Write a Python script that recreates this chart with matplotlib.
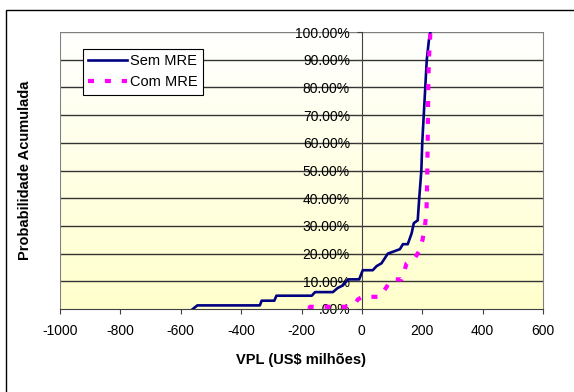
import numpy as np
import matplotlib
matplotlib.use("Agg")
import matplotlib.pyplot as plt
from matplotlib.patches import Rectangle
from matplotlib.ticker import FuncFormatter, MultipleLocator

plt.rcParams['font.family'] = ['Liberation Sans', 'DejaVu Sans']
plt.rcParams['axes.unicode_minus'] = False

# Curvas de probabilidade acumulada (VPL em US$ milhões, probabilidade em %)
sem_mre_x = [-560, -545, -338, -332, -290, -283, -166, -155, -96, -80, -63, -46,
             -9, 3, 36, 49, 65, 86, 99, 126, 136, 152, 165, 172, 185, 190,
             197, 200, 205, 210, 215, 222, 227]
sem_mre_y = [0, 1.3, 1.3, 3.0, 3.0, 4.8, 4.8, 6.1, 6.1, 7.6, 8.5, 10.7,
             10.7, 14.0, 14.0, 15.5, 16.5, 20.0, 20.5, 21.6, 23.4, 23.4, 27.4, 31.0, 32.0, 40,
             50, 60, 70, 80, 90, 97, 100]

com_mre_x = [-174, -172, -40, -23, -13, 2, 60, 70, 82, 98, 132, 139, 148, 159,
             175, 189, 201, 209, 214, 216, 218, 220, 222, 227]
com_mre_y = [0, 0.8, 0.8, 2.0, 3.5, 4.4, 4.4, 6.0, 8.0, 10.7, 10.7, 13.0, 16.5, 17.5,
             18.4, 20.7, 25, 30, 35, 45, 60, 80, 90, 100]

xticks = [-1000, -800, -600, -400, -200, 0, 200, 400, 600]

fig = plt.figure(figsize=(5.74, 3.92), dpi=100)
ax = fig.add_axes([60/574, 83/392, 483/574, 277/392])

# fundo em degradê (branco em cima, amarelo claro embaixo)
grad = np.linspace(0, 1, 256).reshape(-1, 1)
top = np.array([1.0, 1.0, 1.0])
bot = np.array([1.0, 1.0, 0.8])
img = top * (1 - grad[..., None]) + bot * grad[..., None]
ax.imshow(img, extent=[0, 1, 0, 1], transform=ax.transAxes, aspect='auto', zorder=0)

ax.set_xlim(-1000, 600)
ax.set_ylim(0, 100)

for v in range(10, 101, 10):
    ax.axhline(v, color='#333333' if v < 100 else '#808080', lw=1, zorder=1)

ax.plot(sem_mre_x, sem_mre_y, color='#000080', lw=1.9, label='Sem MRE', zorder=3)
ax.plot(com_mre_x, com_mre_y, color='#FF00FF', lw=3, dashes=(1.45, 2.6),
        dash_capstyle='butt', label='Com MRE', zorder=4)

# eixo vertical em x = 0
ax.spines['left'].set_position(('data', 0))
ax.spines['left'].set_color('#404040')
ax.spines['right'].set_color('#808080')
ax.spines['top'].set_visible(False)
ax.spines['bottom'].set_color('#404040')
ax.axvline(-1000, color='#808080', lw=1.5, zorder=1)

ax.set_xticks(xticks)
ax.yaxis.set_major_locator(MultipleLocator(10))
ax.yaxis.set_major_formatter(FuncFormatter(lambda v, p: '.00%' if v == 0 else f'{v:.2f}%'))
ax.tick_params(axis='both', labelsize=10, length=3.6, color='#404040')
ax.tick_params(axis='y', pad=5)
ax.tick_params(axis='x', pad=7)

ax.set_xlabel('VPL (US$ milhões)', fontsize=10.5, fontweight='bold', labelpad=11)
fig.text(25/574, 1 - 170/392, 'Probabilidade Acumulada', rotation=90, fontsize=10.5,
         fontweight='bold', ha='center', va='center')

leg = ax.legend(loc='upper left', bbox_to_anchor=(23/483, 1 - 17/277), fontsize=10.5,
                frameon=True, fancybox=False, edgecolor='black', framealpha=1,
                handlelength=2.65, handletextpad=0.25, borderpad=0.35, labelspacing=0.5,
                borderaxespad=0)
leg.get_frame().set_linewidth(0.8)

# moldura externa do gráfico
fig.patches.append(Rectangle((6/574, -0.05), 1.0, (392 - 10)/392 + 0.05,
                             transform=fig.transFigure, fill=False,
                             edgecolor='black', lw=1))

fig.savefig('out.png', dpi=100)
